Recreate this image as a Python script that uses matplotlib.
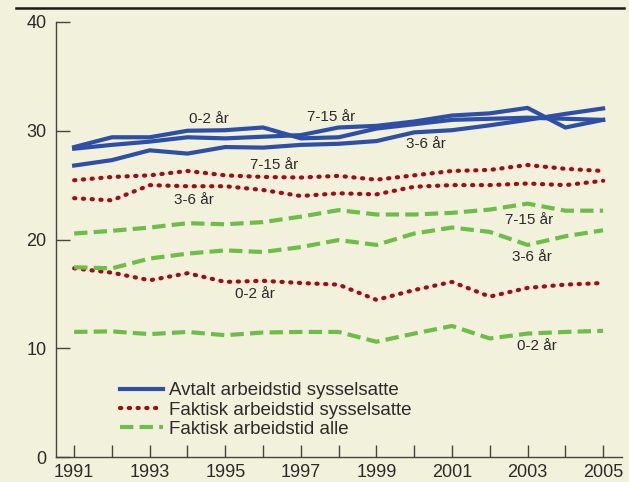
import matplotlib
matplotlib.use("Agg")
import matplotlib.pyplot as plt
from matplotlib.lines import Line2D

BG = "#F2F1DC"
BLUE = "#2E4FA6"
RED = "#A80A14"
GREEN = "#6CBF45"
TXT = "#2B2B2B"

years = list(range(1991, 2006))

# Avtalt arbeidstid sysselsatte
avtalt_0_2 = [28.5, 29.4, 29.4, 30.0, 30.05, 30.3, 29.3, 29.4, 30.2, 30.6, 31.0, 31.1, 31.2, 31.1, 31.0]
avtalt_3_6 = [26.8, 27.3, 28.2, 27.9, 28.5, 28.45, 28.7, 28.8, 29.05, 29.85, 30.05, 30.5, 31.0, 31.55, 32.05]
avtalt_7_15 = [28.35, 28.7, 29.0, 29.4, 29.3, 29.45, 29.6, 30.3, 30.45, 30.85, 31.4, 31.6, 32.1, 30.3, 31.0]

# Faktisk arbeidstid sysselsatte
faktisk_s_0_2 = [17.35, 16.95, 16.25, 16.9, 16.1, 16.2, 16.0, 15.85, 14.45, 15.35, 16.1, 14.75, 15.55, 15.85, 16.0]
faktisk_s_3_6 = [23.8, 23.6, 25.0, 24.9, 24.9, 24.55, 24.0, 24.25, 24.15, 24.85, 25.0, 25.0, 25.15, 25.0, 25.4]
faktisk_s_7_15 = [25.45, 25.75, 25.9, 26.3, 25.9, 25.75, 25.7, 25.85, 25.5, 25.9, 26.3, 26.4, 26.85, 26.5, 26.3]

# Faktisk arbeidstid alle
faktisk_a_0_2 = [11.5, 11.55, 11.3, 11.5, 11.2, 11.45, 11.5, 11.5, 10.6, 11.35, 12.05, 10.9, 11.35, 11.5, 11.6]
faktisk_a_3_6 = [17.45, 17.35, 18.25, 18.7, 19.0, 18.85, 19.3, 19.95, 19.5, 20.55, 21.1, 20.7, 19.5, 20.3, 20.85]
faktisk_a_7_15 = [20.55, 20.8, 21.1, 21.5, 21.4, 21.6, 22.1, 22.7, 22.3, 22.3, 22.45, 22.75, 23.3, 22.65, 22.65]

legend_labels = ["Avtalt arbeidstid sysselsatte",
                 "Faktisk arbeidstid sysselsatte",
                 "Faktisk arbeidstid alle"]

# label text, x, y (data coords)
age_labels = [
    ("0-2 år", 1994.57, 31.1),
    ("7-15 år", 1997.8, 31.25),
    ("3-6 år", 2000.31, 28.77),
    ("7-15 år", 1996.29, 26.84),
    ("3-6 år", 1994.17, 23.62),
    ("7-15 år", 2003.04, 21.78),
    ("3-6 år", 2003.12, 18.38),
    ("0-2 år", 1995.79, 14.98),
    ("0-2 år", 2003.25, 10.2),
]

plt.rcParams['font.family'] = ['Liberation Sans', 'DejaVu Sans']

fig = plt.figure(figsize=(6.29, 4.82), dpi=100, facecolor=BG)
ax = fig.add_axes([56 / 629, 25 / 482, 566 / 629, 435 / 482])
ax.set_facecolor(BG)

blue_kw = dict(color=BLUE, lw=3.0, solid_joinstyle="miter")
red_kw = dict(color=RED, lw=3.0, linestyle=(0, (0.3, 1.8)), dash_capstyle="round")
green_kw = dict(color=GREEN, lw=3.0, linestyle=(0, (3.2, 1.5)), dash_capstyle="butt")

for s in [avtalt_0_2, avtalt_3_6, avtalt_7_15]:
    ax.plot(years, s, **blue_kw)
for s in [faktisk_s_0_2, faktisk_s_3_6, faktisk_s_7_15]:
    ax.plot(years, s, **red_kw)
for s in [faktisk_a_0_2, faktisk_a_3_6, faktisk_a_7_15]:
    ax.plot(years, s, **green_kw)

for txt, x, y in age_labels:
    ax.text(x, y, txt, ha="center", va="center", fontsize=11, color=TXT,
            family=["Liberation Sans Narrow", "Liberation Sans", "DejaVu Sans"])

handles = [Line2D([], [], **blue_kw), Line2D([], [], **red_kw), Line2D([], [], **green_kw)]
leg = ax.legend(handles, legend_labels, loc="upper left", bbox_to_anchor=(0.113, 0.172),
                frameon=False, fontsize=13.5, handlelength=2.3, handletextpad=0.3,
                labelspacing=0.12, borderpad=0, borderaxespad=0)
for t in leg.get_texts():
    t.set_color(TXT)

ax.set_xlim(1990.52, 2005.5)
ax.set_ylim(0, 40)
ax.set_yticks([0, 10, 20, 30, 40])
ax.set_xticks(years)
ax.set_xticklabels([str(y) if y % 2 == 1 else "" for y in years])

for side in ["top", "right"]:
    ax.spines[side].set_visible(False)
for side in ["left", "bottom"]:
    ax.spines[side].set_color("#444444")
    ax.spines[side].set_linewidth(1.0)

ax.tick_params(axis="y", direction="in", length=10, width=1.0, color="#444444",
               pad=7, labelsize=13, labelcolor=TXT)
ax.tick_params(axis="x", direction="in", length=8.5, width=1.0, color="#444444",
               pad=5, labelsize=13, labelcolor=TXT)

# dark rule along the top of the figure
fig.add_artist(Line2D([16 / 629, 624 / 629], [1 - 8 / 482, 1 - 8 / 482],
                      transform=fig.transFigure, color="#1a1a1a", lw=1.8))

fig.savefig("out.png", dpi=100, facecolor=BG)
